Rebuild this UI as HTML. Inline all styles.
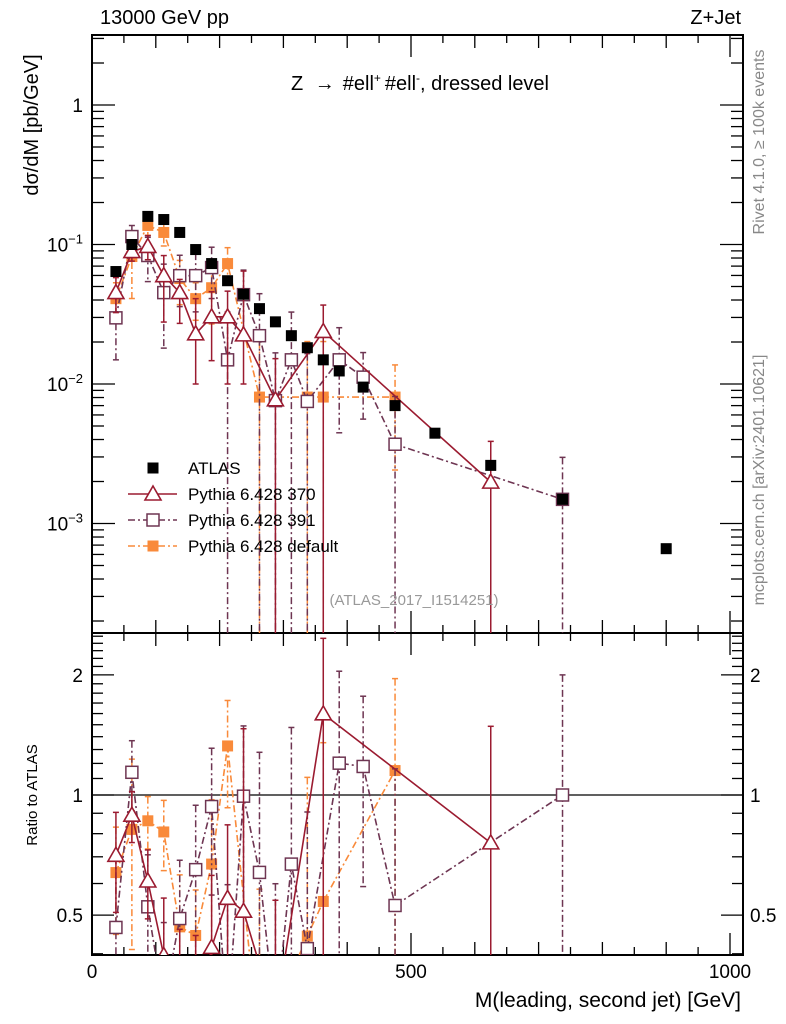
<!DOCTYPE html>
<html><head><meta charset="utf-8"><style>
html,body{margin:0;padding:0;background:#fff;overflow:hidden;width:786px;height:1024px;}
svg{display:block;font-family:"Liberation Sans",sans-serif;}
</style></head><body>
<svg id="chart" width="786" height="1024" viewBox="0 0 786 1024" xmlns="http://www.w3.org/2000/svg" overflow="hidden">
<defs>
<clipPath id="clipMain"><rect x="92" y="35" width="651" height="598"/></clipPath>
<clipPath id="clipRatio"><rect x="92" y="633" width="651" height="322"/></clipPath>
</defs>
<g id="axes"></g>
<g id="marks"></g>
<text x="100" y="24" font-size="20">13000 GeV pp</text>
<text x="741" y="24" font-size="20" text-anchor="end">Z+Jet</text>
<text x="420" y="90" font-size="20" text-anchor="middle">Z <tspan dx="6">→</tspan><tspan dx="8">#ell</tspan><tspan font-size="12" dy="-8">+</tspan><tspan dy="8" dx="4">#ell</tspan><tspan font-size="12" dy="-8">-</tspan><tspan dy="8">, dressed level</tspan></text>
<text transform="translate(38,125) rotate(-90)" font-size="20" text-anchor="middle">dσ/dM [pb/GeV]</text>
<text transform="translate(37,795) rotate(-90)" font-size="15" text-anchor="middle">Ratio to ATLAS</text>
<text x="741" y="1007" font-size="21" text-anchor="end">M(leading, second jet) [GeV]</text>
<text transform="translate(764,142) rotate(-90)" font-size="16" fill="#888" text-anchor="middle">Rivet 4.1.0, ≥ 100k events</text>
<text transform="translate(764,480) rotate(-90)" font-size="16" fill="#888" text-anchor="middle">mcplots.cern.ch [arXiv:2401.10621]</text>
<text x="414" y="605" font-size="15" fill="#999" text-anchor="middle">(ATLAS_2017_I1514251)</text>
<g id="legend"></g>
</svg>
<script>
// ---- data ----
const atlasX = [37.5,62.5,87.5,112.5,137.5,162.5,187.5,212.5,237.5,262.5,287.5,312.5,337.5,362.5,387.5,425,475,537.5,625,737.5,900];
const atlasY = [0.064,0.1,0.159,0.151,0.122,0.092,0.073,0.055,0.044,0.0347,0.0279,0.0222,0.0182,0.0149,0.0124,0.0095,0.0070,0.00444,0.00261,0.00149,0.00066];

const p370X = [37.5,62.5,87.5,112.5,137.5,162.5,187.5,212.5,237.5,287.5,362.5,625];
const p370Y = [0.0452,0.089,0.0968,0.0598,0.0452,0.0229,0.0303,0.0303,0.0225,0.0077,0.0238,0.00198];
const p370Up = [0.0127,0.013,0.019,0.0235,0.011,0.018,0.0156,0.016,0.042,0.0075,0.013,0.0019];
const p370Dn = [0.0127,0.013,0.019,0.032,0.018,0.0129,0.0156,0.0203,0.0125,0.0077,0.0238,0.00198];

const p391X = [37.5,62.5,87.5,112.5,137.5,162.5,187.5,212.5,237.5,262.5,287.5,312.5,337.5,387.5,425,475,737.5];
const p391Y = [0.0298,0.114,0.0834,0.0452,0.0598,0.0598,0.0683,0.0149,0.0437,0.0222,0.0076,0.0149,0.0075,0.0149,0.0112,0.0037,0.00149];
const p391Rel = [0.5,0.2,0.35,0.6,0.4,0.45,0.4,1.2,0.5,1.0,1.2,1.2,1.2,0.7,0.5,1.2,1.0];

const pdefX = [37.5,62.5,87.5,112.5,137.5,162.5,187.5,212.5,262.5,337.5,362.5,475];
const pdefY = [0.0409,0.082,0.137,0.122,0.057,0.0409,0.049,0.073,0.00806,0.00806,0.00806,0.00806];
const pdefRel = [0.3,0.5,0.15,0.2,0.35,0.3,0.45,0.3,1.5,1.5,1.5,0.7];

const xTickLabels = ["0","500","1000"];
const xTickVals = [0,500,1000];
const yMainTickVals = [1,0.1,0.01,0.001];
const yMainTickLabels = [["1",""],["10","−1"],["10","−2"],["10","−3"]];
const yRatioTickVals = [0.5,1,2];
const yRatioTickLabels = ["0.5","1","2"];

// ---- axes functions ----
const X0=92, X1=743, YT=35, YM=633, YB=955;
const xS = v => 92 + v*0.638;
const yMain = v => 105 - Math.log10(v)*139.5;
const yRatio = v => 795 - Math.log10(v)*399;
const NS="http://www.w3.org/2000/svg";
function mk(tag, attrs, parent){const e=document.createElementNS(NS,tag);for(const k in attrs)e.setAttribute(k,attrs[k]);parent.appendChild(e);return e;}
const axes=document.getElementById('axes');
const marks=document.getElementById('marks');

let f1=mk('rect',{x:X0,y:YT,width:X1-X0,height:YM-YT,fill:'none',stroke:'#000','stroke-width':2},axes);


let f2=mk('rect',{x:X0,y:YM,width:X1-X0,height:YB-YM,fill:'none',stroke:'#000','stroke-width':2},axes);



for(let v=0; v<=1020; v+=50){
  const x=xS(v); const len = v%500===0?22:(v%100===0?13:8);
  [[YM,-1],[YT,1],[YB,-1],[YM,1]].forEach(([y0,d])=>{
    let t=mk('line',{x1:x,x2:x,y1:y0,y2:y0+d*len,stroke:'#000','stroke-width':1.3},axes);
    
    
  });
}
xTickVals.forEach((v,i)=>{
  let t=mk('text',{x:xS(v),y:978,'font-size':19,'text-anchor':'middle'},axes);
  t.textContent=xTickLabels[i];
  
  
});
for(let e=-4;e<=0;e++){
  for(let m=1;m<=9;m++){
    const v=m*Math.pow(10,e); const y=yMain(v);
    if(y<YT||y>YM) continue;
    const len=m===1?23:12;
    let t=mk('line',{x1:X0,x2:X0+len,y1:y,y2:y,stroke:'#000','stroke-width':1.3},axes);
    
    
    let t2=mk('line',{x1:X1,x2:X1-len,y1:y,y2:y,stroke:'#000','stroke-width':1.3},axes);
    
    
  }
}
yMainTickVals.forEach((v,i)=>{
  let t=mk('text',{x:83,y:yMain(v)+7,'font-size':19,'text-anchor':'end'},axes);
  
  
  if(yMainTickLabels[i][1]===''){t.textContent=yMainTickLabels[i][0];}
  else{
    const a=document.createElementNS(NS,'tspan');a.textContent=yMainTickLabels[i][0];t.appendChild(a);
    const b=document.createElementNS(NS,'tspan');b.setAttribute('dy','-8');b.setAttribute('font-size','13');b.textContent=yMainTickLabels[i][1];t.appendChild(b);
  }
});
for(let v=0.4; v<=2.55; v=Math.round((v+0.1)*10)/10){
  const y=yRatio(v); if(y<YM||y>YB) continue;
  const major = Math.abs(v-0.5)<1e-6||Math.abs(v-1)<1e-6||Math.abs(v-2)<1e-6;
  const len=major?22:11;
  let t=mk('line',{x1:X0,x2:X0+len,y1:y,y2:y,stroke:'#000','stroke-width':1.3},axes);
  
  
  let t2=mk('line',{x1:X1,x2:X1-len,y1:y,y2:y,stroke:'#000','stroke-width':1.3},axes);
  
  
}
yRatioTickVals.forEach((v,i)=>{
  let t=mk('text',{x:83,y:yRatio(v)+7,'font-size':19,'text-anchor':'end'},axes);
  t.textContent=yRatioTickLabels[i];
  
  
  let t2=mk('text',{x:750,y:yRatio(v)+7,'font-size':19,'text-anchor':'start'},axes);
  t2.textContent=yRatioTickLabels[i];
  
  
});
let ref=mk('line',{x1:X0,x2:X1,y1:yRatio(1),y2:yRatio(1),stroke:'#000','stroke-width':1.3},axes);



const gMain=mk('g',{'clip-path':'url(#clipMain)'},marks);
const gRatio=mk('g',{'clip-path':'url(#clipRatio)'},marks);
function atlasAt(x){const i=atlasX.indexOf(x);return i>=0?atlasY[i]:null;}
function clampLog(v){return v>1e-9?v:1e-9;}
function marker(g,type,x,y,color,name){
  let m;
  if(type==='tri'){m=mk('path',{d:`M${x},${y-8} L${x+8},${y+6} L${x-8},${y+6} Z`,fill:'#fff',stroke:color,'stroke-width':1.6},g);}
  else if(type==='open'){m=mk('rect',{x:x-6,y:y-6,width:12,height:12,fill:'#fff',stroke:color,'stroke-width':1.5},g);}
  else {m=mk('rect',{x:x-5.5,y:y-5.5,width:11,height:11,fill:color},g);}
  
  
}
function drawSeries(xs,ys,up,dn,color,dash,type,name){
  [['main',gMain,yMain],['ratio',gRatio,yRatio]].forEach(([which,g,ys_])=>{
    const lo = which==='main'?YT:YM, hi = which==='main'?YM:YB;
    const pts=[];
    xs.forEach((x,i)=>{
      let v=ys[i], u=v+up[i], d=v-dn[i];
      if(which==='ratio'){const a=atlasAt(x); v/=a; u/=a; d/=a;}
      const px=xS(x), py=ys_(v);
      pts.push([px,py]);
      const yU=ys_(u), yD=ys_(clampLog(d));
      let e=mk('line',{x1:px,x2:px,y1:Math.max(yU,lo),y2:Math.min(yD,hi),stroke:color,'stroke-width':1.5,'stroke-dasharray':dash},g);
      
      
      [yU,yD].forEach(yy=>{ if(yy>lo&&yy<hi){
        let c=mk('line',{x1:px-3,x2:px+3,y1:yy,y2:yy,stroke:color,'stroke-width':1.5},g);
        
        }});
    });
    let pl=mk('polyline',{points:pts.map(p=>p[0]+','+Math.max(-200,Math.min(1300,p[1]))).join(' '),fill:'none',stroke:color,'stroke-width':1.6,'stroke-dasharray':dash},g);
    
    
    pts.forEach(p=>{ if(p[1]>lo-20&&p[1]<hi+20) marker(g,type,p[0],p[1],color,name+'-point'); });
  });
}
const c370='#9b1b30', c391='#6e3552', cdef='#f98a3a';
drawSeries(pdefX,pdefY,pdefY.map((v,i)=>v*pdefRel[i]),pdefY.map((v,i)=>v*pdefRel[i]),cdef,'7,3,2,3','fill','pythia-default');
drawSeries(p391X,p391Y,p391Y.map((v,i)=>v*p391Rel[i]),p391Y.map((v,i)=>v*p391Rel[i]),c391,'7,3,2,3','open','pythia-391');
drawSeries(p370X,p370Y,p370Up,p370Dn,c370,'','tri','pythia-370');
atlasX.forEach((x,i)=>marker(gMain,'fill',xS(x),yMain(atlasY[i]),'#000','atlas-point'));

const lg=document.getElementById('legend');
const rows=[['ATLAS','#000','','fill',false],['Pythia 6.428 370',c370,'','tri',true],['Pythia 6.428 391',c391,'7,3,2,3','open',true],['Pythia 6.428 default',cdef,'7,3,2,3','fill',true]];
rows.forEach((r,i)=>{
  const y=468+i*26;
  if(r[4]){let l=mk('line',{x1:128,x2:177,y1:y,y2:y,stroke:r[1],'stroke-width':1.6,'stroke-dasharray':r[2]},lg);
    
    }
  marker(lg,r[3],153,y,r[1],'legend-marker');
  let t=mk('text',{x:188,y:y+6,'font-size':17},lg);
  t.textContent=r[0];
  
  
});
</script>
</body></html>
